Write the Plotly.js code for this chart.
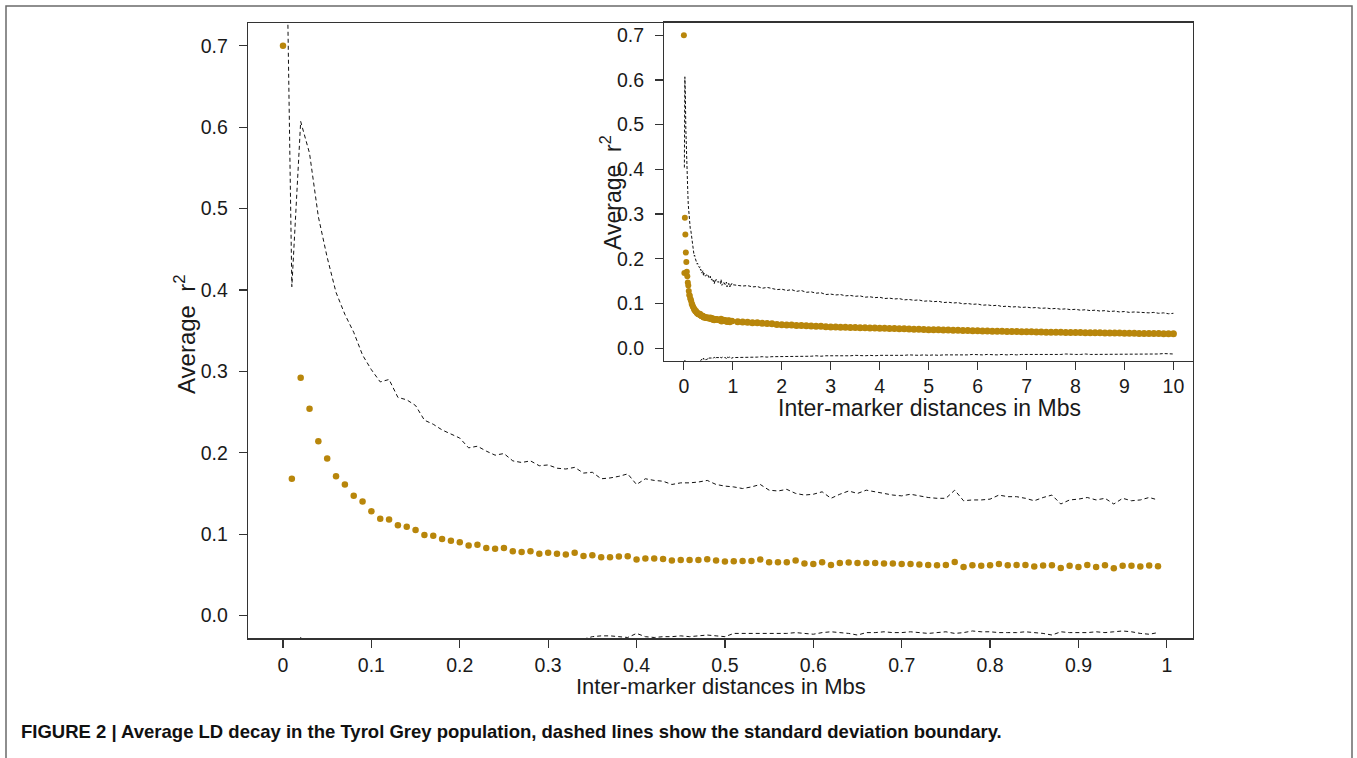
<!DOCTYPE html>
<html>
<head>
<meta charset="utf-8">
<script src="https://cdn.plot.ly/plotly-3.0.1.min.js"></script>
<style>
  html, body { margin: 0; padding: 0; background: #ffffff; }
  #chart { width: 1357px; height: 758px; }
</style>
</head>
<body>
<div id="chart"></div>
<script>
// ---------- main panel: distances 0 - 0.99 Mb ----------
const mainDist = [0,0.01,0.02,0.03,0.04,0.05,0.06,0.07,0.08,0.09,
  0.1,0.11,0.12,0.13,0.14,0.15,0.16,0.17,0.18,0.19,
  0.2,0.21,0.22,0.23,0.24,0.25,0.26,0.27,0.28,0.29,
  0.3,0.31,0.32,0.33,0.34,0.35,0.36,0.37,0.38,0.39,
  0.4,0.41,0.42,0.43,0.44,0.45,0.46,0.47,0.48,0.49,
  0.5,0.51,0.52,0.53,0.54,0.55,0.56,0.57,0.58,0.59,
  0.6,0.61,0.62,0.63,0.64,0.65,0.66,0.67,0.68,0.69,
  0.7,0.71,0.72,0.73,0.74,0.75,0.76,0.77,0.78,0.79,
  0.8,0.81,0.82,0.83,0.84,0.85,0.86,0.87,0.88,0.89,
  0.9,0.91,0.92,0.93,0.94,0.95,0.96,0.97,0.98,0.99];

const mainR2 = [0.700,0.168,0.292,0.254,0.214,0.193,0.171,0.161,0.147,0.140,
  0.128,0.119,0.118,0.111,0.109,0.105,0.099,0.098,0.094,0.092,
  0.090,0.086,0.087,0.083,0.082,0.083,0.079,0.078,0.079,0.076,
  0.077,0.076,0.075,0.077,0.073,0.074,0.0715,0.0715,0.0724,0.0728,
  0.0687,0.070,0.070,0.0695,0.0675,0.0683,0.0683,0.0683,0.0691,0.0675,
  0.0663,0.0667,0.0671,0.0671,0.0687,0.0654,0.0654,0.0654,0.0675,0.0638,
  0.0634,0.0654,0.0622,0.0646,0.0650,0.0646,0.0646,0.0646,0.0640,0.0638,
  0.0634,0.0634,0.0626,0.0622,0.0618,0.0622,0.0659,0.0597,0.0618,0.0610,
  0.0618,0.0634,0.0618,0.0622,0.0622,0.0601,0.0613,0.0618,0.0585,0.0610,
  0.0597,0.0622,0.0597,0.0618,0.0580,0.0610,0.0610,0.0601,0.0613,0.0605];

const mainUpper = [1.13,0.404,0.607,0.568,0.490,0.440,0.397,0.370,0.348,0.320,
  0.302,0.287,0.290,0.268,0.265,0.258,0.240,0.235,0.228,0.223,
  0.218,0.206,0.208,0.202,0.197,0.199,0.190,0.188,0.190,0.184,
  0.185,0.181,0.180,0.182,0.175,0.176,0.168,0.169,0.171,0.174,
  0.161,0.168,0.166,0.165,0.161,0.163,0.163,0.164,0.166,0.161,
  0.159,0.158,0.156,0.158,0.161,0.154,0.153,0.155,0.150,0.148,
  0.149,0.152,0.144,0.149,0.153,0.150,0.154,0.152,0.150,0.148,
  0.147,0.149,0.147,0.145,0.144,0.144,0.154,0.141,0.142,0.142,
  0.143,0.148,0.146,0.146,0.144,0.141,0.145,0.148,0.137,0.142,
  0.143,0.145,0.142,0.144,0.137,0.144,0.141,0.142,0.145,0.142];

const mainLower = [null,-0.064,-0.027,-0.060,-0.050,-0.055,-0.055,-0.050,-0.055,-0.045,
  -0.035,-0.050,-0.055,-0.050,-0.047,-0.048,-0.042,-0.040,-0.040,-0.040,
  -0.038,-0.034,-0.034,-0.036,-0.033,-0.033,-0.032,-0.032,-0.032,-0.032,
  -0.031,-0.030,-0.030,-0.029,-0.029,-0.026,-0.025,-0.025,-0.026,-0.027,
  -0.022,-0.026,-0.027,-0.026,-0.026,-0.025,-0.026,-0.025,-0.024,-0.025,
  -0.026,-0.022,-0.022,-0.022,-0.022,-0.022,-0.022,-0.022,-0.021,-0.022,
  -0.023,-0.021,-0.020,-0.021,-0.022,-0.024,-0.021,-0.021,-0.020,-0.021,
  -0.021,-0.020,-0.021,-0.022,-0.021,-0.020,-0.022,-0.021,-0.019,-0.020,
  -0.020,-0.021,-0.021,-0.021,-0.020,-0.021,-0.022,-0.024,-0.020,-0.021,
  -0.021,-0.021,-0.020,-0.021,-0.020,-0.019,-0.020,-0.022,-0.023,-0.021];

// ---------- inset: continuation 1.1 - 10 Mb ----------
const insetDist = [1.1,1.2,1.3,1.4,1.5,1.6,1.7,1.8,1.9,2.0,
  2.1,2.2,2.3,2.4,2.5,2.6,2.7,2.8,2.9,3.0,
  3.1,3.2,3.3,3.4,3.5,3.6,3.7,3.8,3.9,4.0,
  4.1,4.2,4.3,4.4,4.5,4.6,4.7,4.8,4.9,5.0,
  5.1,5.2,5.3,5.4,5.5,5.6,5.7,5.8,5.9,6.0,
  6.1,6.2,6.3,6.4,6.5,6.6,6.7,6.8,6.9,7.0,
  7.1,7.2,7.3,7.4,7.5,7.6,7.7,7.8,7.9,8.0,
  8.1,8.2,8.3,8.4,8.5,8.6,8.7,8.8,8.9,9.0,
  9.1,9.2,9.3,9.4,9.5,9.6,9.7,9.8,9.9,10.0];

const insetR2 = [0.0592,0.0585,0.0581,0.0570,0.0568,0.0560,0.0552,0.0548,0.0531,0.0524,
  0.0520,0.0518,0.0509,0.0506,0.0502,0.0495,0.0490,0.0488,0.0479,0.0474,
  0.0476,0.0468,0.0467,0.0462,0.0461,0.0459,0.0455,0.0454,0.0450,0.0447,
  0.0446,0.0440,0.0439,0.0436,0.0433,0.0431,0.0426,0.0424,0.0417,0.0413,
  0.0415,0.0410,0.0409,0.0405,0.0402,0.0401,0.0398,0.0394,0.0391,0.0388,
  0.0387,0.0383,0.0381,0.0378,0.0379,0.0374,0.0372,0.0371,0.0367,0.0365,
  0.0366,0.0362,0.0361,0.0358,0.0359,0.0355,0.0354,0.0353,0.0350,0.0350,
  0.0348,0.0347,0.0345,0.0344,0.0343,0.0341,0.0340,0.0338,0.0337,0.0335,
  0.0334,0.0333,0.0331,0.0330,0.0329,0.0327,0.0326,0.0325,0.0323,0.0321];

const insetUpper = [0.141,0.139,0.140,0.137,0.138,0.134,0.136,0.133,0.131,0.132,
  0.129,0.131,0.127,0.129,0.125,0.126,0.123,0.124,0.120,0.121,
  0.119,0.120,0.117,0.118,0.116,0.117,0.114,0.115,0.113,0.114,
  0.111,0.112,0.110,0.111,0.108,0.109,0.107,0.108,0.105,0.106,
  0.104,0.105,0.102,0.103,0.101,0.102,0.099,0.100,0.098,0.099,
  0.096,0.097,0.095,0.096,0.093,0.094,0.092,0.093,0.091,0.092,
  0.090,0.091,0.089,0.090,0.088,0.089,0.087,0.088,0.086,0.087,
  0.085,0.086,0.084,0.085,0.083,0.084,0.082,0.083,0.081,0.082,
  0.080,0.081,0.080,0.080,0.079,0.080,0.078,0.079,0.077,0.078];

const insetLower = [-0.021,-0.020,-0.021,-0.020,-0.020,-0.019,-0.020,-0.019,-0.019,-0.019,
  -0.019,-0.018,-0.019,-0.018,-0.018,-0.018,-0.017,-0.018,-0.017,-0.017,
  -0.017,-0.018,-0.017,-0.017,-0.016,-0.017,-0.017,-0.016,-0.017,-0.016,
  -0.016,-0.017,-0.016,-0.016,-0.016,-0.015,-0.016,-0.016,-0.015,-0.016,
  -0.015,-0.016,-0.015,-0.015,-0.016,-0.015,-0.015,-0.015,-0.014,-0.015,
  -0.015,-0.014,-0.015,-0.015,-0.014,-0.015,-0.014,-0.015,-0.014,-0.014,
  -0.015,-0.014,-0.014,-0.015,-0.014,-0.014,-0.014,-0.013,-0.014,-0.014,
  -0.014,-0.013,-0.014,-0.014,-0.013,-0.014,-0.013,-0.014,-0.013,-0.013,
  -0.014,-0.013,-0.013,-0.013,-0.014,-0.013,-0.013,-0.012,-0.013,-0.013];

const xTicksMain = [0,0.1,0.2,0.3,0.4,0.5,0.6,0.7,0.8,0.9,1];
const xTickTextMain = ['0','0.1','0.2','0.3','0.4','0.5','0.6','0.7','0.8','0.9','1'];
const xTicksInset = [0,1,2,3,4,5,6,7,8,9,10];
const xTickTextInset = ['0','1','2','3','4','5','6','7','8','9','10'];
const yTicks = [0,0.1,0.2,0.3,0.4,0.5,0.6,0.7];
const yTickText = ['0.0','0.1','0.2','0.3','0.4','0.5','0.6','0.7'];

const xTitle = 'Inter-marker distances in Mbs';
const yTitle = 'Average&nbsp;&nbsp;r<sup>2</sup>';
const caption = 'FIGURE 2 | Average LD decay in the Tyrol Grey population, dashed lines show the standard deviation boundary.';

// ---------- drawing ----------
const W = 1357, H = 758;
const px = v => v / W;
const py = v => 1 - v / H;
const FONT = 'Liberation Sans, Arial, Helvetica, sans-serif';
const DOT = '#B8860B';
const INK = '#1a1a1a';
const BOX = '#333333';
const DASH_MAIN = {color: '#111', width: 1, dash: '4px,3px'};
const DASH_INSET = {color: '#111', width: 1, dash: '3px,2px'};

const traces = [
  {x: mainDist, y: mainUpper, xaxis: 'x', yaxis: 'y', mode: 'lines', line: DASH_MAIN, hoverinfo: 'skip'},
  {x: mainDist, y: mainLower, xaxis: 'x', yaxis: 'y', mode: 'lines', line: DASH_MAIN, hoverinfo: 'skip'},
  {x: mainDist, y: mainR2, xaxis: 'x', yaxis: 'y', mode: 'markers', marker: {color: DOT, size: 6.5}},
  {x: mainDist.slice(1).concat(insetDist), y: mainUpper.slice(1).concat(insetUpper),
   xaxis: 'x2', yaxis: 'y2', mode: 'lines', line: DASH_INSET, hoverinfo: 'skip'},
  {x: mainDist.slice(1).concat(insetDist), y: mainLower.slice(1).concat(insetLower),
   xaxis: 'x2', yaxis: 'y2', mode: 'lines', line: DASH_INSET, hoverinfo: 'skip'},
  {x: mainDist, y: mainR2, xaxis: 'x2', yaxis: 'y2', mode: 'markers', marker: {color: DOT, size: 6}},
  {x: insetDist, y: insetR2, xaxis: 'x2', yaxis: 'y2', mode: 'markers', marker: {color: DOT, size: 7}}
];

const axisCommon = {
  showgrid: false, zeroline: false, showline: true, mirror: true,
  linecolor: BOX, linewidth: 1.3, ticks: 'outside', ticklen: 8, tickwidth: 1.2,
  tickcolor: BOX, tickfont: {family: FONT, size: 19.5, color: INK}
};

const layout = {
  width: W, height: H,
  margin: {l: 0, r: 0, t: 0, b: 0},
  paper_bgcolor: '#ffffff', plot_bgcolor: '#ffffff',
  showlegend: false,
  xaxis: Object.assign({}, axisCommon, {
    domain: [px(248), px(1193)], range: [-0.0396, 1.0296], anchor: 'y',
    tickmode: 'array', tickvals: xTicksMain, ticktext: xTickTextMain, ticklabelstandoff: 1
  }),
  yaxis: Object.assign({}, axisCommon, {
    domain: [py(638.3), py(23)], range: [-0.028, 0.728], anchor: 'x',
    tickmode: 'array', tickvals: yTicks, ticktext: yTickText, ticklabelstandoff: 7
  }),
  xaxis2: Object.assign({}, axisCommon, {
    domain: [px(664.3), px(1193)], range: [-0.4, 10.4], anchor: 'y2',
    tickmode: 'array', tickvals: xTicksInset, ticktext: xTickTextInset, ticklabelstandoff: 0
  }),
  yaxis2: Object.assign({}, axisCommon, {
    domain: [py(360.7), py(22.7)], range: [-0.028, 0.728], anchor: 'x2',
    tickmode: 'array', tickvals: yTicks, ticktext: yTickText, ticklabelstandoff: 7
  }),
  shapes: [
    {type: 'rect', xref: 'paper', yref: 'paper', x0: px(6), x1: px(1352), y0: py(775), y1: py(6),
     line: {color: '#6a6a6a', width: 1.5}, fillcolor: 'rgba(0,0,0,0)', layer: 'below'}
  ],
  annotations: [
    {xref: 'paper', yref: 'paper', x: px(720.5), y: py(686), text: xTitle, showarrow: false,
     xanchor: 'center', yanchor: 'middle', font: {family: FONT, size: 22, color: INK}},
    {xref: 'paper', yref: 'paper', x: px(185), y: py(334), text: yTitle, showarrow: false, textangle: -90,
     xanchor: 'center', yanchor: 'middle', font: {family: FONT, size: 24, color: INK}},
    {xref: 'paper', yref: 'paper', x: px(929), y: py(408), text: xTitle, showarrow: false,
     xanchor: 'center', yanchor: 'middle', font: {family: FONT, size: 23, color: INK}},
    {xref: 'paper', yref: 'paper', x: px(611), y: py(193), text: yTitle, showarrow: false, textangle: -90,
     xanchor: 'center', yanchor: 'middle', font: {family: FONT, size: 23, color: INK}},
    {xref: 'paper', yref: 'paper', x: px(19), y: py(731), text: '<b>' + caption + '</b>', showarrow: false,
     xanchor: 'left', yanchor: 'middle', font: {family: FONT, size: 18.5, color: '#111'}}
  ]
};

Plotly.newPlot('chart', traces, layout, {displayModeBar: false, staticPlot: true});
</script>
</body>
</html>
